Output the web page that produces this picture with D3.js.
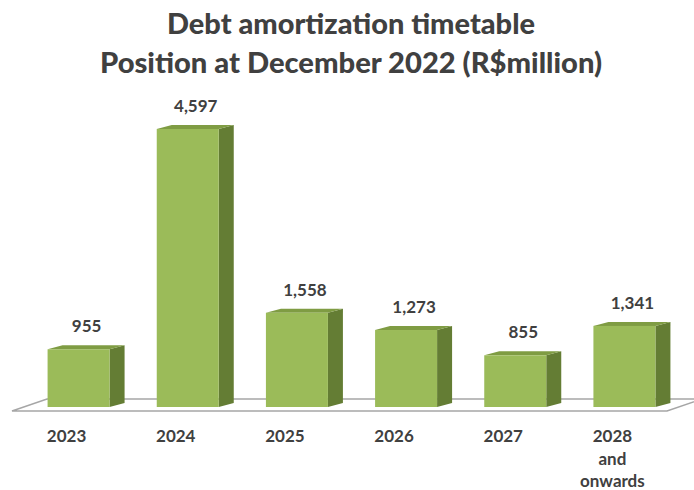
<!DOCTYPE html>
<html>
<head>
<meta charset="utf-8">
<script src="https://cdn.jsdelivr.net/npm/d3@7/dist/d3.min.js"></script>
<style>
  html, body { margin: 0; padding: 0; background: #ffffff; }
  svg { display: block; font-family: Lato, "Open Sans", sans-serif; }
</style>
</head>
<body>
<svg id="chart" width="694" height="490"></svg>
<script>
// Debt amortization by year (R$ million)
const categories = ["2023", "2024", "2025", "2026", "2027", "2028 and onwards"];
const categoryLines = [["2023"], ["2024"], ["2025"], ["2026"], ["2027"], ["2028", "and", "onwards"]];
const amounts = [955, 4597, 1558, 1273, 855, 1341];
const titleLines = ["Debt amortization timetable", "Position at December 2022 (R$million)"];

const svg = d3.select("#chart");
const textColor = "#404040";

// Floor front edge spans the category axis; back edge is shifted by the floor depth
const floorFrontY = 411, floorDepthX = 35, floorDepthY = 12;
const x = d3.scaleBand().domain(categories).range([12, 667]).paddingInner(0).paddingOuter(0);
const y = d3.scaleLinear().domain([0, d3.max(amounts)]).range([407, 129]);

// Bars sit a little behind the floor's front edge
const barShift = 12, barWidth = 62, depthX = 15, depthY = 4;

// Title
svg.append("g").selectAll("text")
  .data(titleLines)
  .join("text")
  .attr("x", 351)
  .attr("y", (d, i) => 34 + i * 38.5)
  .attr("text-anchor", "middle")
  .attr("font-size", 28)
  .attr("font-weight", 900)
  .attr("fill", textColor)
  .attr("textLength", (d, i) => i === 0 ? 368 : 502)
  .attr("lengthAdjust", "spacingAndGlyphs")
  .text(d => d);

// Floor
const [fx0, fx1] = x.range();
svg.append("polygon")
  .attr("points", [
    [fx0, floorFrontY], [fx1, floorFrontY],
    [fx1 + floorDepthX, floorFrontY - floorDepthY], [fx0 + floorDepthX, floorFrontY - floorDepthY]
  ].map(p => p.join(",")).join(" "))
  .attr("fill", "#ffffff")
  .attr("stroke", "#a6a6a6")
  .attr("stroke-width", 1.5);

// 3D bars: front face, side face and top face
const data = categories.map((c, i) => ({ cat: c, value: amounts[i], lines: categoryLines[i] }));
const frontCenter = d => x(d.cat) + x.bandwidth() / 2 + barShift;

const bars = svg.append("g").selectAll("g.bar")
  .data(data)
  .join("g")
  .attr("class", "bar");

bars.append("polygon")
  .attr("points", d => {
    const x1 = frontCenter(d) + barWidth / 2, yt = y(d.value), yb = y(0);
    return [[x1, yt], [x1 + depthX, yt - depthY], [x1 + depthX, yb - depthY], [x1, yb]].map(p => p.join(",")).join(" ");
  })
  .attr("fill", "#647d34");

bars.append("polygon")
  .attr("points", d => {
    const x0 = frontCenter(d) - barWidth / 2, x1 = x0 + barWidth, yt = y(d.value);
    return [[x0, yt], [x0 + depthX, yt - depthY], [x1 + depthX, yt - depthY], [x1, yt]].map(p => p.join(",")).join(" ");
  })
  .attr("fill", "#7f9c43");

bars.append("rect")
  .attr("x", d => frontCenter(d) - barWidth / 2)
  .attr("y", d => y(d.value))
  .attr("width", barWidth)
  .attr("height", d => y(0) - y(d.value))
  .attr("fill", "#9bbb59");

// Value labels
bars.append("text")
  .attr("x", d => frontCenter(d) + depthX / 2 + 0.5)
  .attr("y", d => y(d.value) - 17)
  .attr("text-anchor", "middle")
  .attr("font-size", 17)
  .attr("font-weight", 700)
  .attr("fill", textColor)
  .text(d => d3.format(",")(d.value));

// Category labels along the floor front edge
const labels = svg.append("g").selectAll("text")
  .data(data)
  .join("text")
  .attr("x", d => x(d.cat) + x.bandwidth() / 2)
  .attr("y", 442)
  .attr("text-anchor", "middle")
  .attr("font-size", 17)
  .attr("font-weight", 700)
  .attr("fill", textColor);

labels.selectAll("tspan")
  .data(d => d.lines.map((t, i) => ({ t, i, x: x(d.cat) + x.bandwidth() / 2 })))
  .join("tspan")
  .attr("x", d => d.x)
  .attr("dy", d => d.i === 0 ? 0 : 22.5)
  .text(d => d.t);
</script>
</body>
</html>
